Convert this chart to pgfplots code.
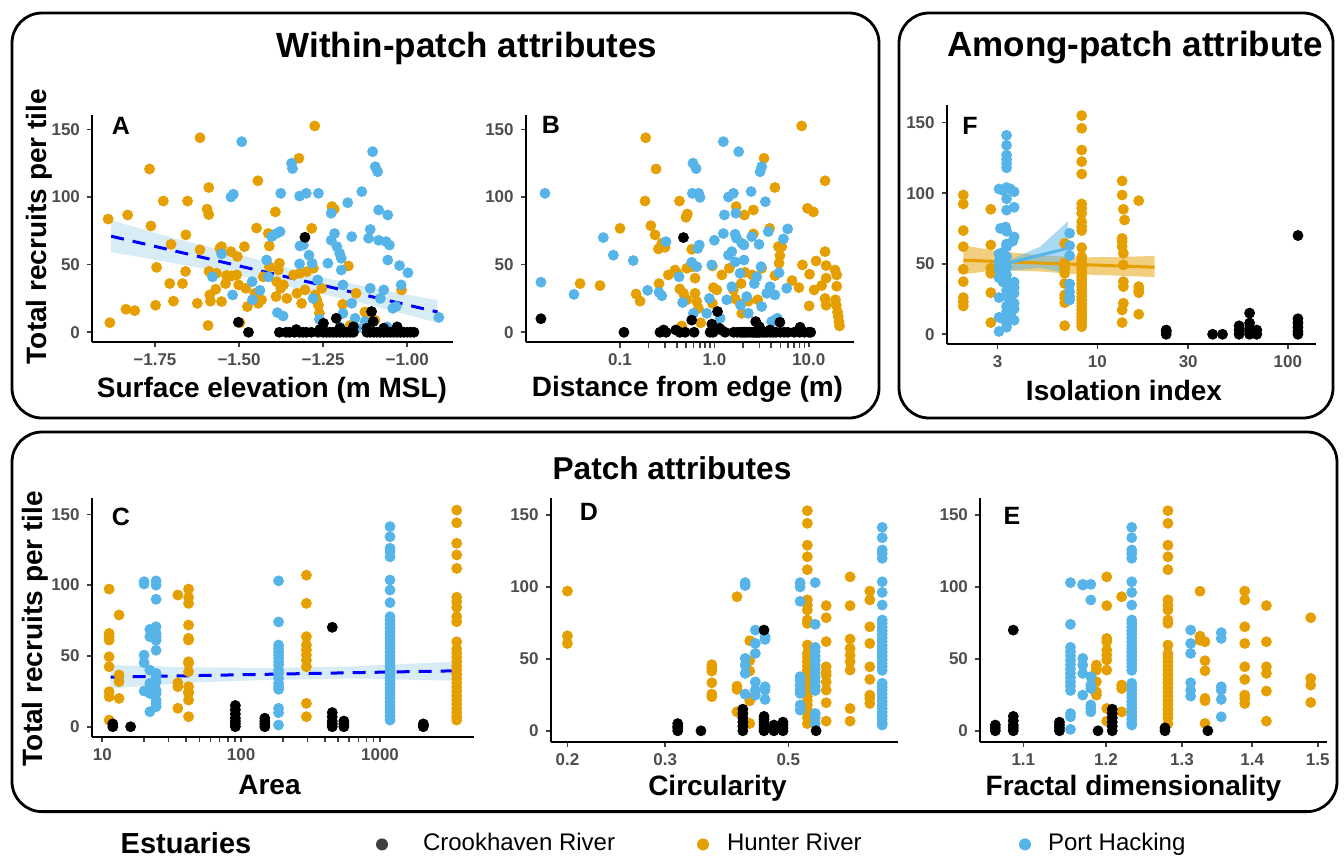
\documentclass[border=0pt]{standalone}
\usepackage{fontspec}
\setmainfont{Liberation Sans}
\usepackage{pgfplots}
\pgfplotsset{compat=1.18}
\definecolor{cHunter}{HTML}{E69F00}
\definecolor{cHack}{HTML}{56B4E9}
\definecolor{tickgray}{HTML}{4D4D4D}
\definecolor{ribbon}{HTML}{9DCFE8}
\pgfplotsset{
 panel/.style={scale only axis, anchor=south west, axis lines=left,
   axis line style={-, line width=1pt, black},
   tick align=outside, major tick length=2.5pt,
   tick style={line width=0.8pt, black!75},
   ytick={0,50,100,150}, yticklabels={0,50,100,150},
   ticklabel style={font=\fontsize{8.5}{10}\selectfont\bfseries, text=tickgray},
   minor xtick={}, minor ytick={}},
 pc/.style={only marks, mark=*, mark size=2.5pt, color=black, forget plot},
 ph/.style={only marks, mark=*, mark size=2.5pt, color=cHunter, forget plot},
 pb/.style={only marks, mark=*, mark size=2.5pt, color=cHack, forget plot},
}
\newcommand{\ttl}{\fontsize{17.5}{20}\selectfont\bfseries}
\newcommand{\lab}{\fontsize{14}{16}\selectfont\bfseries}
\begin{document}
\begin{tikzpicture}
\path[use as bounding box] (0,0) rectangle (672pt,-429.5pt);
\draw[line width=1.4pt, rounded corners=15pt] (6pt,-6.5pt) rectangle (439.5pt,-209pt);
\draw[line width=1.4pt, rounded corners=15pt] (449.5pt,-6.5pt) rectangle (666.5pt,-209pt);
\draw[line width=1.4pt, rounded corners=15pt] (6pt,-216pt) rectangle (668.5pt,-405.8pt);

% ---------------- Panel A
\begin{axis}[panel, at={(46pt,-171pt)}, width=180.5pt, height=113.5pt,
  xmin=-1.937, xmax=-0.864, ymin=-7.2, ymax=160.6,
  xtick={-1.75,-1.5,-1.25,-1}, xticklabels={−1.75,−1.50,−1.25,−1.00}]
\addplot[ph] coordinates {(-1.889,83.7)(-1.884,7.1)(-1.831,86.7)(-1.836,17)(-1.81,16)(-1.762,78.6)(-1.766,120.7)(-1.745,48)(-1.748,20)(-1.725,97)(-1.706,36)(-1.702,65)(-1.695,23)(-1.668,36)(-1.659,45)(-1.658,72)(-1.653,97)(-1.624,21.4)(-1.616,61)(-1.616,143.8)(-1.59,107)(-1.595,91)(-1.59,87)(-1.592,5)(-1.589,45)(-1.587,27.6)(-1.585,23)(-1.569,31.8)(-1.567,43.6)(-1.557,62)(-1.552,63.3)(-1.552,22.7)(-1.54,36)(-1.537,42)(-1.524,59.6)(-1.522,41.6)(-1.507,42.4)(-1.505,56)(-1.501,35)(-1.497,7)(-1.484,63.3)(-1.48,32.5)(-1.475,19)(-1.448,77)(-1.444,112)(-1.453,28.8)(-1.443,21.4)(-1.433,24)(-1.428,41)(-1.413,73)(-1.41,63.8)(-1.41,48.5)(-1.392,89)(-1.39,26.4)(-1.388,37.4)(-1.383,46)(-1.38,51)(-1.376,32.5)(-1.368,35)(-1.358,25)(-1.338,42.4)(-1.328,28.8)(-1.322,128.6)(-1.319,43.6)(-1.314,21.4)(-1.304,31.3)(-1.299,44.8)(-1.284,76.8)(-1.279,47.3)(-1.275,152.5)(-1.274,27.6)(-1.269,24)(-1.264,20)(-1.261,14)(-1.254,32.5)(-1.224,92.9)(-1.217,91)(-1.192,20.7)(-1.175,49)(-1.17,5)(-1.152,28.8)(-1.126,15)(-1.121,14)(-1.096,9)(-1.017,31.3)};
\addplot[pb] coordinates {(-1.492,140.9)(-1.524,100)(-1.517,102)(-1.579,41)(-1.552,58)(-1.519,27.6)(-1.461,37.4)(-1.46,24)(-1.438,31)(-1.418,53.4)(-1.413,41)(-1.403,70.7)(-1.389,73)(-1.378,74.4)(-1.376,102.7)(-1.386,14.5)(-1.369,12)(-1.344,124.9)(-1.341,121)(-1.32,100.7)(-1.319,63.8)(-1.309,64.5)(-1.32,50.5)(-1.3,102.7)(-1.292,57)(-1.283,51)(-1.28,25)(-1.264,102.7)(-1.266,38.7)(-1.261,9.6)(-1.236,51)(-1.226,68)(-1.226,88)(-1.216,73)(-1.209,63.3)(-1.201,58.4)(-1.196,54.7)(-1.196,46)(-1.191,35)(-1.191,14)(-1.177,95.8)(-1.165,70.7)(-1.165,21.4)(-1.155,10.3)(-1.135,104)(-1.125,7.9)(-1.115,69.5)(-1.11,76)(-1.11,32.5)(-1.103,133.5)(-1.095,122.4)(-1.088,118.7)(-1.085,90.4)(-1.085,68)(-1.08,25)(-1.07,31.3)(-1.063,67)(-1.058,86.7)(-1.058,53.4)(-1.053,64.5)(-1.043,17.7)(-1.033,19)(-1.023,49.3)(-1.018,35)(-0.998,44)(-0.906,11)(-1.06,4)(-1.2,4)(-1.15,3)};
\addplot[pc] coordinates {(-1.502,7.4)(-1.472,0)(-1.304,70.2)(-1.249,6.6)(-1.211,10.3)(-1.106,15.3)(-1.101,7.9)(-1.38,0)(-1.36,0)(-1.35,0)(-1.335,0)(-1.32,0)(-1.31,0)(-1.30,0)(-1.285,0)(-1.265,0)(-1.25,0)(-1.24,0)(-1.23,0)(-1.22,0)(-1.21,0)(-1.20,0)(-1.19,0)(-1.18,0)(-1.17,0)(-1.16,0)(-1.12,0)(-1.11,0)(-1.10,0)(-1.09,0)(-1.08,0)(-1.07,0)(-1.06,0)(-1.05,0)(-1.04,0)(-1.03,0)(-1.02,0)(-1.01,0)(-1.00,0)(-0.99,0)(-0.98,0)(-1.07,3)(-1.03,4)(-1.12,3)(-1.2,3)(-1.16,4)(-1.26,2)(-1.33,2)};
\addplot[fill=ribbon, fill opacity=0.4, draw=none, forget plot] coordinates {(-1.88,82.8)(-1.7,70)(-1.5,57.5)(-1.25,40.5)(-1.1,32.5)(-0.91,23.7)(-0.91,7)(-1.1,19.5)(-1.25,28)(-1.5,42)(-1.7,51.5)(-1.88,59.2)} -- cycle;
\addplot[blue, line width=1.5pt, dash pattern=on 6.5pt off 4.5pt, forget plot] coordinates {(-1.88,71)(-0.91,15)};
\end{axis}

% ---------------- Panel B
\begin{axis}[panel, at={(262.85pt,-171pt)}, width=164.15pt, height=113.5pt,
  xmode=log, xmin=0.01, xmax=30.2, ymin=-7.2, ymax=160.6,
  xtick={0.1,1,10}, xticklabels={0.1,1.0,10.0}]
\addplot[ph] coordinates {(0.0377,36)(0.0614,34.5)(0.1,76.8)(0.148,28.3)(0.163,23)(0.187,143.8)(0.184,97)(0.212,78.8)(0.241,120.7)(0.235,72)(0.259,36)(0.255,61.6)(0.277,65.8)(0.3,62.8)(0.325,42.4)(0.382,46)(0.405,43.6)(0.426,97)(0.45,4.7)(0.43,32)(0.47,28.8)(0.49,24.9)(0.5,85)(0.517,87.4)(0.51,47.3)(0.51,24)(0.575,61.3)(0.59,48.5)(0.624,40)(0.624,28.8)(0.65,22.7)(0.677,17.7)(0.716,7)(0.952,49)(0.952,21.4)(0.976,33)(1.06,31.3)(1.2,42.4)(1.44,47.3)(1.59,31.3)(1.66,24.6)(1.7,92.9)(1.87,21)(1.92,36)(1.95,14)(2.08,86.7)(2.11,44.3)(2.2,24)(2.29,23)(2.51,42.4)(2.59,90.4)(2.59,72.7)(2.88,24)(3.17,47.3)(3.36,128.6)(3.85,76.8)(4.38,41.9)(4.38,107)(4.77,63.3)(5.17,63.3)(4.95,56.7)(4.85,51)(6.65,38.2)(7.88,33)(8.42,152.5)(8.58,49.8)(9.7,91.6)(10.2,42.9)(10.1,19.5)(11.2,89)(11.4,31.3)(11.96,52.7)(13.7,34.5)(14.9,112)(14.9,59.6)(14.9,25)(15.3,20)(15.3,49.3)(15.3,40)(19.0,46)(19.8,42.4)(19.2,24)(19.6,20)(20.2,15)(20.6,11.6)(20.9,7.9)(21.2,4.7)(19.8,34)};
\addplot[pb] coordinates {(0.0145,37)(0.016,102.7)(0.0325,28)(0.0665,70)(0.085,57)(0.138,53)(0.196,31)(0.259,29.5)(0.277,27)(0.307,67)(0.422,41)(0.461,22)(0.575,51.7)(0.599,14)(0.593,125)(0.64,121)(0.584,102.7)(0.682,102.7)(0.705,99.7)(0.666,62)(0.692,64.5)(0.65,48.5)(0.83,14)(0.885,25)(0.937,49.8)(1.0,68)(1.15,10.3)(1.245,140.9)(1.245,73)(1.276,86.7)(1.35,24)(1.41,100)(1.59,102.7)(1.41,57)(1.53,59.6)(1.53,33.7)(1.66,72.4)(1.72,69.5)(1.66,52)(1.69,88)(1.81,133.5)(1.95,65.8)(2.06,64.5)(1.87,43.6)(2.06,53.4)(1.9,20)(2.2,26.4)(2.29,14)(2.45,104)(2.49,70.7)(2.65,36)(2.81,41)(2.97,65)(3.05,118.7)(3.17,122.4)(3.12,48.5)(3.17,19)(3.47,96.5)(3.59,28.8)(3.73,74.4)(3.89,33.7)(4.05,7.9)(4.38,9)(4.65,10.3)(4.38,27.6)(4.85,44)(5.39,69)(5.84,32.5)(5.98,76.4)};
\addplot[pc] coordinates {(0.0145,10)(0.11,0)(0.265,0)(0.29,1.7)(0.307,0)(0.39,1.7)(0.43,0)(0.49,0)(0.47,70)(0.575,9)(0.61,0)(0.9,0)(0.94,6)(0.97,0)(1.08,15.3)(1.13,3)(1.18,1.7)(1.3,0)(1.6,0)(1.75,0)(1.9,0)(2.0,0)(2.1,0)(2.2,0)(2.35,0)(2.5,0)(2.6,0)(2.7,0)(2.8,0)(2.9,0)(3.0,0)(3.2,0)(3.4,0)(3.6,0)(3.9,0)(4.2,0)(4.5,0)(5.0,0)(5.5,0)(6.0,0)(7.0,0)(8.0,0)(9.0,0)(10.0,0)(10.5,0)(2.74,7.9)(4.95,7.4)(3,4)(8.1,3.7)(3.9,1.7)};
\end{axis}

% ---------------- Panel F
\begin{axis}[panel, at={(473.35pt,-172pt)}, width=184.65pt, height=119.5pt,
  xmode=log, xmin=1.62, xmax=140.6, ymin=-6.9, ymax=162.5,
  xtick={3,10,30,100}, xticklabels={3,10,30,100}]
\addplot[ph] coordinates {(1.98,98.7)(1.98,92.4)(1.98,73.5)(1.98,62.1)(1.98,46.1)(1.98,37.3)(1.98,26)(1.98,23.1)(1.98,20)(2.76,88.6)(2.76,63.3)(2.76,46.8)(2.76,43.2)(2.76,29.5)(2.76,8.3)(6.74,64.5)(6.74,50.8)(6.74,48)(6.74,46)(6.74,43.2)(6.74,36)(6.74,27.9)(6.74,25.5)(6.74,22.4)(6.74,6.1)(8.28,155)(8.28,146)(8.28,130.6)(8.28,122.4)(8.28,113.6)(8.28,92.4)(8.28,89.3)(8.28,85.8)(8.28,79.8)(8.28,76.3)(8.28,73.5)(8.28,61.4)(8.28,55)(8.28,52.7)(8.28,50.3)(8.28,48)(8.28,45.6)(8.28,43.2)(8.28,40.9)(8.28,38.5)(8.28,36.1)(8.28,33.8)(8.28,31.4)(8.28,29)(8.28,26.7)(8.28,24.3)(8.28,22)(8.28,19.6)(8.28,17.2)(8.28,14.9)(8.28,12.5)(8.28,10.2)(8.28,7.8)(8.28,5.4)(13.5,108.7)(13.5,98.7)(13.7,88.6)(13.9,81)(13.5,68)(13.5,65.7)(13.5,62.1)(13.7,57.4)(13.7,49.1)(13.7,37.3)(13.7,33.8)(13.7,22)(13.5,17.2)(13.5,8.3)(16.5,94.7)(16.5,33.8)(16.5,31.4)(16.5,29.5)(16.5,14.2)};
\addplot[pb] coordinates {(3.34,141)(3.34,134)(3.34,127)(3.34,124)(3.34,121)(3.34,118)(3.05,103)(3.2,102)(3.34,104)(3.5,103)(3.66,101)(3.34,96)(3.66,90)(3.34,88)(3.1,75)(3.3,76)(3.34,73)(3.66,69)(3.6,66)(3.34,64)(3.05,57)(3.2,58)(3.34,55)(3.05,52)(3.2,50)(3.34,48)(3.05,46)(3.2,44)(3.34,42)(3.05,40)(3.34,38)(3.66,37)(3.5,35)(3.66,33)(3.34,31)(3.66,29)(3.05,26)(3.34,27)(3.5,24)(3.66,22)(3.34,20)(3.66,18)(3.34,16)(3.05,12)(3.2,11)(3.66,10)(3.34,8)(3.34,5)(3.05,2)(3.34,62)(3.05,50)(3.2,37)(3.5,30)(3.5,14)(7.16,71.6)(7.16,62.8)(7.16,55.8)(7.16,35.7)(7.16,30.2)(7.16,26.7)(7.16,24.3)};
\addplot[pc] coordinates {(23,0)(23,2)(23,3)(40.3,0)(45.4,0)(55.5,0)(55.5,3)(55.5,6)(63,0)(63,2)(63,4)(63,8)(63,15)(68.7,0)(68.7,3)(113,70)(113,11)(113,8)(113,5)(113,2)(113,0)};
\addplot[fill=cHunter, fill opacity=0.5, draw=none, forget plot] coordinates {(1.98,63)(3,59)(5,56)(8,54.5)(13,54.8)(20,55.5)(20,40.5)(13,41.5)(8,42.5)(5,44.5)(3,45.5)(1.98,42.5)} -- cycle;
\addplot[fill=cHack, fill opacity=0.5, draw=none, forget plot] coordinates {(3.0,54)(3.5,53)(5,62)(7,80)(7,43)(5,47)(3.5,45)(3.0,43)} -- cycle;
\addplot[cHunter, line width=1.5pt, forget plot] coordinates {(1.98,52.5)(20,47.5)};
\addplot[cHack, line width=1.5pt, forget plot] coordinates {(3.0,48.5)(7.0,61)};
\end{axis}

% ---------------- Panel C
\begin{axis}[panel, at={(45.85pt,-368.35pt)}, width=191.15pt, height=119.2pt,
  xmode=log, xmin=8.39, xmax=4750, ymin=-7.06, ymax=161.3,
  xtick={10,100,1000}, xticklabels={10,100,1000},
  legend style={at={(0.7437,-0.4459)}, anchor=west, draw=none, fill=none, inner sep=0pt, outer sep=0pt,
    legend columns=-1, font=\fontsize{12}{14}\selectfont, nodes={inner sep=0pt, outer sep=0pt},
    /tikz/every odd column/.style={column sep=8.5pt}, /tikz/every even column/.style={column sep=0pt}},
  legend cell align=left,
  legend image code/.code={\fill[#1] (0pt,-0.7pt) circle (3pt);}]
\addplot[ph] coordinates {(11.2,97.2)(11.2,65.9)(11.2,63.6)(11.2,61.2)(11.2,49.4)(11.2,42.4)(11.2,24.7)(11.2,21.2)(11.2,4.7)(13.2,78.9)(13.2,36.5)(13.2,31.8)(13.2,20)(35,93)(35,31)(35,28.3)(35,13)(41.8,97.2)(41.8,91.4)(41.8,87.1)(41.8,71.8)(41.8,62.4)(41.8,61.2)(41.8,45.9)(41.8,44.7)(41.8,38.9)(41.8,28.3)(41.8,24.7)(41.8,23.5)(41.8,18.8)(41.8,7.1)(295,107)(295,87.1)(295,63.6)(295,57.7)(295,54.2)(295,50.6)(295,47)(295,42.4)(295,16.5)(295,7.1)(3565,153)(3565,144)(3565,129.5)(3565,121.3)(3565,111.8)(3565,91.4)(3565,88.3)(3565,84.3)(3565,77.7)(3565,74.2)(3565,60)(3565,55)(3565,52)(3565,49)(3565,46)(3565,43)(3565,40)(3565,37)(3565,34)(3565,31)(3565,28)(3565,25)(3565,22)(3565,19)(3565,16)(3565,13)(3565,10)(3565,7)(3565,4.7)};
\addplot[pb] coordinates {(20,102.4)(20,100.8)(20,50.6)(20,45.2)(20,25.2)(24.4,103)(24.4,100)(24.4,90)(24.4,70.6)(24.4,66)(24.4,63.6)(24.4,61)(24.4,54)(24.4,37.7)(24.4,35.3)(24.4,31.8)(24.4,25.9)(24.4,23.5)(24.4,18.8)(24.4,16.5)(24.4,14.1)(22,68.8)(22,63.6)(22,40)(22,30.6)(22,23.5)(22,10.6)(186,103)(186,74)(186,57.7)(186,55.3)(186,53)(186,50.6)(186,48.3)(186,45.9)(186,43.6)(186,40)(186,37.7)(186,34.1)(186,30.6)(186,28.3)(186,26.4)(186,13)(186,9.9)(186,1.2)(1180,141.3)(1180,134.2)(1180,126)(1180,123.6)(1180,120)(1180,103.6)(1180,96.5)(1180,87.6)(1180,77.7)(1180,75)(1180,72.5)(1180,70)(1180,67.5)(1180,65)(1180,62.5)(1180,60)(1180,57.5)(1180,55)(1180,52.5)(1180,50)(1180,47.5)(1180,45)(1180,42.5)(1180,40)(1180,37.5)(1180,35)(1180,32.5)(1180,30)(1180,27.5)(1180,25)(1180,22.5)(1180,20)(1180,17.5)(1180,15)(1180,12.5)(1180,10)(1180,7.5)(1180,4.7)};
\addplot[pc] coordinates {(11.9,0)(11.9,2)(16,0)(90.8,0)(90.8,2)(90.8,4)(90.8,6)(90.8,9)(90.8,12)(90.8,15)(148,0)(148,2)(148,4)(148,6)(453,70.2)(453,0)(453,2)(453,4)(453,7)(453,10)(549,0)(549,2)(549,4)(2050,0)(2050,1)(2050,2)};
\addplot[fill=ribbon, fill opacity=0.4, draw=none, forget plot] coordinates {(11.5,43.5)(40,42)(150,41.5)(600,42.5)(3565,46)(3565,32.5)(600,34)(150,33)(40,31)(11.5,27)} -- cycle;
\addplot[blue, line width=1.5pt, dash pattern=on 6.5pt off 4.5pt, forget plot] coordinates {(11.5,35)(3565,39.5)};
\addlegendimage{fill=black!75, draw=none}
\addlegendentry{\hspace*{9pt}\makebox[137pt][l]{Crookhaven River}}
\addlegendimage{fill=cHunter, draw=none}
\addlegendentry{\hspace*{0.5pt}\makebox[146pt][l]{Hunter River}}
\addlegendimage{fill=cHack, draw=none}
\addlegendentry{Port Hacking}
\end{axis}

% ---------------- Panel D
\begin{axis}[panel, at={(275.35pt,-370.85pt)}, width=173.5pt, height=121.7pt,
  xmode=log, xmin=0.1866, xmax=0.787, ymin=-7.6, ymax=161.6,
  xtick={0.2,0.3,0.5}, xticklabels={0.2,0.3,0.5}]
\addplot[ph] coordinates {(0.2,97.1)(0.2,66)(0.2,60.7)(0.364,46)(0.364,43.8)(0.364,41.5)(0.364,33.4)(0.364,25.5)(0.364,23.7)(0.404,93.2)(0.404,31)(0.404,28.8)(0.404,13.2)(0.426,62.6)(0.426,48.7)(0.426,41.5)(0.426,23)(0.426,20.9)(0.426,5.1)(0.541,153)(0.541,144.2)(0.541,129)(0.541,121)(0.541,112)(0.541,91)(0.541,87.4)(0.541,84)(0.541,77)(0.541,74.7)(0.541,59.6)(0.541,53.8)(0.541,51)(0.541,48)(0.541,45)(0.541,42)(0.541,39)(0.541,36)(0.541,33)(0.541,30)(0.541,27)(0.541,24)(0.541,21)(0.541,18)(0.541,15)(0.541,12)(0.541,9)(0.541,5)(0.585,87)(0.585,78.6)(0.585,62)(0.585,44.5)(0.585,41)(0.585,38.7)(0.585,34)(0.585,28.3)(0.585,19.5)(0.585,6.7)(0.646,107)(0.646,87)(0.646,63.8)(0.646,57.3)(0.646,52.6)(0.646,48)(0.646,42.2)(0.646,15.5)(0.646,6.7)(0.701,97.1)(0.701,91)(0.701,72.3)(0.701,60.7)(0.701,44.5)(0.701,35.7)(0.701,24.8)(0.701,22.5)(0.701,19)};
\addplot[pb] coordinates {(0.418,103)(0.418,101)(0.418,50.3)(0.418,45.7)(0.418,39.9)(0.418,25.5)(0.436,70)(0.436,60.7)(0.436,53.8)(0.436,34)(0.436,28.3)(0.436,24.8)(0.454,65.4)(0.454,63.5)(0.454,30.6)(0.454,28.3)(0.454,21.8)(0.525,103)(0.525,100)(0.525,90)(0.525,37.6)(0.525,35.2)(0.525,31.8)(0.525,28.3)(0.525,26)(0.525,17.9)(0.525,14.4)(0.559,103)(0.559,74)(0.559,58)(0.559,55)(0.559,52)(0.559,49)(0.559,46)(0.559,43)(0.559,40)(0.559,37)(0.559,34)(0.559,31)(0.559,28)(0.559,12)(0.559,9)(0.559,5)(0.738,141.4)(0.738,134.2)(0.738,125.7)(0.738,123.3)(0.738,119.9)(0.738,103.6)(0.738,96.2)(0.738,87.4)(0.738,77)(0.738,74.5)(0.738,72)(0.738,69.5)(0.738,67)(0.738,64.5)(0.738,62)(0.738,59.5)(0.738,57)(0.738,54.5)(0.738,52)(0.738,49.5)(0.738,47)(0.738,44.5)(0.738,42)(0.738,33)(0.738,30.5)(0.738,28)(0.738,25.5)(0.738,23)(0.738,20.5)(0.738,18)(0.738,15.5)(0.738,13)(0.738,10.5)(0.738,8)(0.738,5.5)(0.738,4)};
\addplot[pc] coordinates {(0.316,0)(0.316,2)(0.316,3)(0.316,5)(0.348,0)(0.414,0)(0.414,3)(0.414,6)(0.414,9)(0.414,12)(0.414,15)(0.452,70)(0.452,0)(0.452,2)(0.452,4)(0.452,6)(0.452,8)(0.452,10)(0.471,0)(0.471,2)(0.471,4)(0.489,0)(0.489,2)(0.489,4)(0.489,6)(0.561,0)};
\end{axis}

% ---------------- Panel E
\begin{axis}[panel, at={(490pt,-370.85pt)}, width=173.35pt, height=121.7pt,
  xmode=log, xmin=1.0509, xmax=1.5143, ymin=-7.6, ymax=161.6,
  xtick={1.1,1.2,1.3,1.4,1.5}, xticklabels={1.1,1.2,1.3,1.4,1.5}]
\addplot[ph] coordinates {(1.188,45.7)(1.188,43.4)(1.188,42.2)(1.188,34.1)(1.188,27.1)(1.188,24.8)(1.201,107)(1.201,87)(1.201,64.2)(1.201,61.9)(1.201,56.1)(1.201,52.6)(1.201,49.2)(1.201,42.2)(1.201,15.5)(1.201,6.7)(1.22,93.2)(1.22,31.8)(1.22,29.4)(1.22,13.2)(1.281,153)(1.281,144.2)(1.281,129)(1.281,121)(1.281,112)(1.281,91)(1.281,87.4)(1.281,84)(1.281,77)(1.281,74.7)(1.281,59.6)(1.281,53.8)(1.281,51)(1.281,48)(1.281,45)(1.281,42)(1.281,39)(1.281,36)(1.281,33)(1.281,30)(1.281,27)(1.281,24)(1.281,21)(1.281,18)(1.281,15)(1.281,12)(1.281,9)(1.281,5)(1.325,97)(1.325,65.8)(1.325,63)(1.332,61.9)(1.332,48.7)(1.332,41.7)(1.332,22.5)(1.332,20.9)(1.332,5.1)(1.389,97.1)(1.389,91)(1.389,72.3)(1.389,60.7)(1.389,44.5)(1.389,35.7)(1.389,24.8)(1.389,22.5)(1.389,19)(1.421,87)(1.421,61.9)(1.421,44.5)(1.421,39.9)(1.421,27.6)(1.421,6.7)(1.489,78.6)(1.489,36.4)(1.489,31.8)(1.489,19.7)};
\addplot[pb] coordinates {(1.156,103)(1.156,74)(1.156,58)(1.156,55)(1.156,52)(1.156,49)(1.156,46)(1.156,43)(1.156,40)(1.156,37)(1.156,34)(1.156,31)(1.156,28)(1.156,12)(1.156,9.7)(1.156,1)(1.171,101.8)(1.171,101.3)(1.171,50.3)(1.171,45.7)(1.171,39.9)(1.171,24.8)(1.181,101.8)(1.181,90.9)(1.181,37.6)(1.181,31.8)(1.181,29.4)(1.181,17.9)(1.181,15.5)(1.181,13.2)(1.233,141.4)(1.233,134.2)(1.233,125.7)(1.233,123.3)(1.233,119.9)(1.233,103.6)(1.233,96.2)(1.233,87.4)(1.233,77)(1.233,74.5)(1.233,72)(1.233,69.5)(1.233,67)(1.233,64.5)(1.233,62)(1.233,59.5)(1.233,57)(1.233,54.5)(1.233,52)(1.233,49.5)(1.233,47)(1.233,44.5)(1.233,42)(1.233,33)(1.233,30.5)(1.233,28)(1.233,25.5)(1.233,23)(1.233,20.5)(1.233,18)(1.233,15.5)(1.233,13)(1.233,10.5)(1.233,8)(1.233,5.5)(1.233,4)(1.312,70)(1.312,60.7)(1.312,53.8)(1.312,33.4)(1.312,28.3)(1.312,24.1)(1.355,68.2)(1.355,64.2)(1.355,30.6)(1.355,28.3)(1.355,21.8)(1.355,9.7)};
\addplot[pc] coordinates {(1.068,0)(1.068,2)(1.068,4)(1.0884,70)(1.0884,0)(1.0884,2)(1.0884,4)(1.0884,7)(1.0884,10)(1.1426,0)(1.1426,2)(1.1426,4)(1.1426,6)(1.19,0)(1.208,0)(1.208,3)(1.208,6)(1.208,9)(1.208,12)(1.208,15)(1.277,0)(1.277,2)(1.336,0)};
\end{axis}

% ---------------- Text
\node[font=\ttl] at (233.5pt,-24pt) {Within-patch attributes};
\node[font=\ttl] at (567.5pt,-24pt) {Among-patch attribute};
\node[font=\fontsize{15.8}{18}\selectfont\bfseries] at (336pt,-234pt) {Patch attributes};
\node[font=\lab, rotate=90, anchor=base] at (23.4pt,-113.3pt) {Total recruits per tile};
\node[font=\lab, rotate=90, anchor=base] at (21pt,-314.3pt) {Total recruits per tile};
\node[font=\lab, anchor=base] at (136pt,-198.8pt) {Surface elevation (m MSL)};
\node[font=\lab, anchor=base] at (343.75pt,-198.3pt) {Distance from edge (m)};
\node[font=\lab, anchor=base] at (562pt,-200pt) {Isolation index};
\node[font=\lab, anchor=base] at (134.75pt,-397pt) {Area};
\node[font=\lab, anchor=base] at (358.75pt,-397.5pt) {Circularity};
\node[font=\lab, anchor=base] at (566.75pt,-397.5pt) {Fractal dimensionality};
\node[font=\fontsize{12.5}{14}\selectfont\bfseries] at (60.5pt,-62.75pt) {A};
\node[font=\fontsize{12.5}{14}\selectfont\bfseries] at (275.5pt,-62.5pt) {B};
\node[font=\fontsize{12.5}{14}\selectfont\bfseries] at (485pt,-63pt) {F};
\node[font=\fontsize{12.5}{14}\selectfont\bfseries] at (60.5pt,-258.25pt) {C};
\node[font=\fontsize{12.5}{14}\selectfont\bfseries] at (294.5pt,-255.75pt) {D};
\node[font=\fontsize{12.5}{14}\selectfont\bfseries] at (506pt,-258pt) {E};
\node[font=\fontsize{14.5}{16}\selectfont\bfseries] at (93pt,-421.5pt) {Estuaries};
\end{tikzpicture}
\end{document}
